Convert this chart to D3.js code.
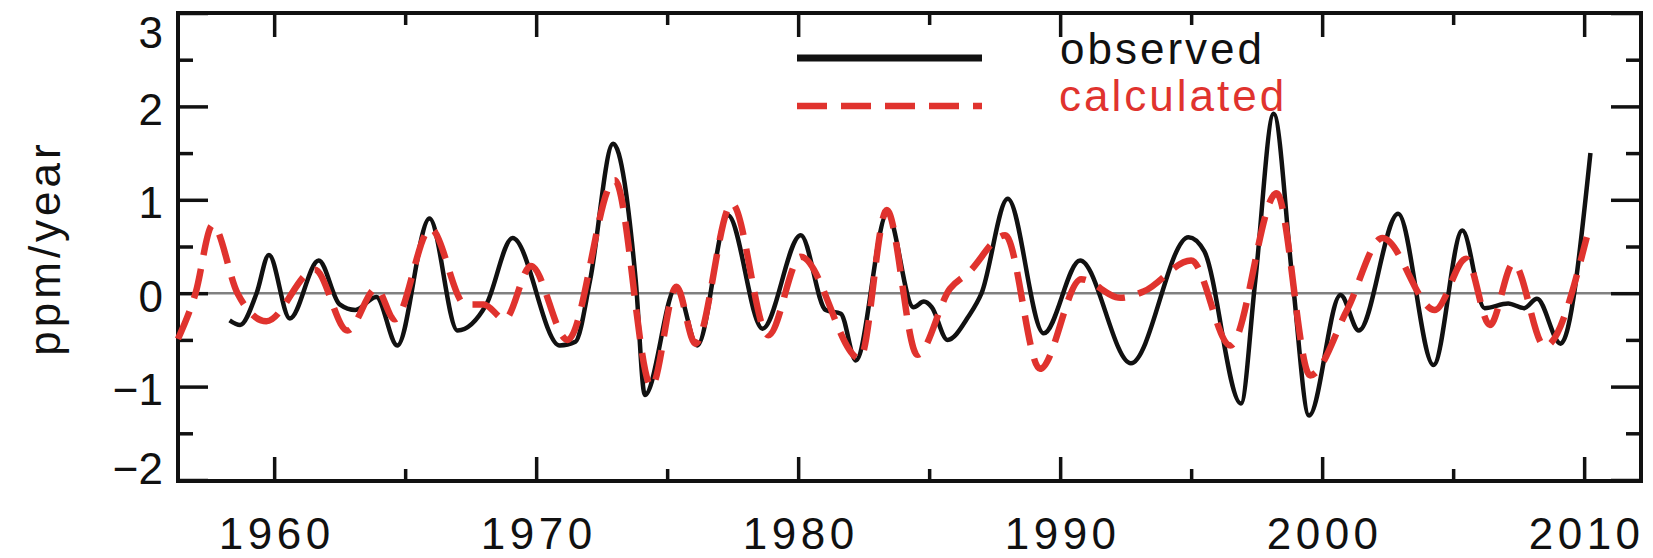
<!DOCTYPE html>
<html>
<head>
<meta charset="utf-8">
<script src="https://cdn.jsdelivr.net/npm/d3@7"></script>
<style>
  body { margin: 0; background: #fff; }
  svg { display: block; }
</style>
</head>
<body>
<div id="chart"></div>
<script>
// svg size
var svgWidth = 1653;
var svgHeight = 558;

// plot box edges
var box = { left: 178, right: 1641, top: 13, bottom: 481 };

// observed growth rate (ppm/year) at peaks / troughs
var obsYears = [1958.3, 1958.7, 1959.33, 1959.8, 1960.6, 1961.7, 1962.5, 1963.1, 1963.9, 1964.7,
    1965.93, 1967.0, 1968.1, 1969.1, 1970.9, 1971.5, 1972.06, 1972.94, 1973.8, 1974.15,
    1975.35, 1976.15, 1977.32, 1978.64, 1980.1, 1981.05, 1981.63, 1982.2, 1983.4, 1984.4,
    1984.8, 1985.1, 1985.7, 1986.5, 1987.0, 1988.0, 1989.37, 1990.76, 1992.7, 1994.9,
    1995.5, 1996.9, 1997.45, 1998.15, 1998.87, 1999.5, 2000.7, 2001.4, 2002.9, 2004.25,
    2005.35, 2006.2, 2007.1, 2007.7, 2008.2, 2009.1, 2010.24];
var obsValues = [-0.29, -0.34, 0.0, 0.41, -0.27, 0.35, -0.12, -0.18, -0.04, -0.56,
    0.80, -0.40, -0.12, 0.59, -0.56, -0.52, 0.14, 1.60, 0.14, -1.09,
    0.07, -0.56, 0.835, -0.38, 0.62, -0.18, -0.22, -0.72, 0.85, -0.15,
    -0.09, -0.15, -0.50, -0.25, 0.0, 1.01, -0.43, 0.35, -0.75, 0.60,
    0.45, -1.18, 0.14, 1.92, 0.14, -1.31, -0.02, -0.40, 0.85, -0.77,
    0.67, -0.16, -0.11, -0.16, -0.06, -0.54, 1.50];

// calculated growth rate (ppm/year)
var calcYears = [1956.33, 1957.0, 1957.65, 1958.6, 1959.7, 1961.55, 1962.8, 1963.9, 1964.6, 1965.97,
    1967.3, 1968.0, 1968.8, 1969.8, 1971.2, 1973.0, 1974.4, 1975.35, 1976.08, 1977.47,
    1978.86, 1980.1, 1982.36, 1983.38, 1984.55, 1985.8, 1986.5, 1987.9, 1989.23, 1990.8,
    1992.3, 1993.2, 1995.0, 1996.5, 1998.26, 1999.54, 2000.95, 2002.3, 2004.3, 2005.5,
    2006.4, 2007.3, 2008.5, 2010.1];
var calcValues = [-0.49, 0.0, 0.73, 0.0, -0.30, 0.25, -0.40, 0.05, -0.28, 0.69,
    -0.12, -0.12, -0.28, 0.29, -0.50, 1.21, -1.0, 0.07, -0.54, 0.96,
    -0.45, 0.39, -0.70, 0.89, -0.66, 0.05, 0.22, 0.62, -0.81, 0.15,
    -0.05, 0.02, 0.35, -0.56, 1.07, -0.88, -0.18, 0.59, -0.18, 0.37,
    -0.34, 0.32, -0.57, 0.60];

// ticks
var xMajorTicks = [1960, 1970, 1980, 1990, 2000, 2010];
var xMinorTicks = [1965, 1975, 1985, 1995, 2005];
var yMajorTicks = [-2, -1, 0, 1, 2, 3];
var yMinorTicks = [-1.5, -0.5, 0.5, 1.5, 2.5];

// legend labels
var seriesNames = ["observed", "calculated"];

var red = "#e0332e";
var ink = "#111";
var font = "'Liberation Sans', Arial, Helvetica, sans-serif";

var svg = d3.select("#chart").append("svg")
    .attr("width", svgWidth)
    .attr("height", svgHeight);

// scales
var xScale = d3.scaleLinear()
    .domain([1956.33, 2012.17])
    .range([box.left, box.right]);

var yScale = d3.scaleLinear()
    .domain([-2, 3])
    .range([480, 13]);

// zero line
svg.append("line")
    .attr("x1", box.left).attr("x2", box.right)
    .attr("y1", yScale(0)).attr("y2", yScale(0))
    .attr("stroke", "#808080")
    .attr("stroke-width", 2.5);

// helper to style an axis group
function styleAxis(g, width) {
    g.select(".domain").remove();
    g.selectAll(".tick line").attr("stroke", ink).attr("stroke-width", width);
}

// bottom axis, ticks pointing inward
var bottomAxis = svg.append("g")
    .attr("transform", `translate(0, ${box.bottom})`)
    .call(d3.axisBottom(xScale).tickValues(xMajorTicks).tickSizeInner(-24).tickSizeOuter(0)
        .tickPadding(37).tickFormat(d3.format("d")));
styleAxis(bottomAxis, 3.5);
bottomAxis.selectAll("text")
    .attr("font-family", font)
    .attr("font-size", 44)
    .attr("letter-spacing", "4.5px")
    .attr("dx", 2)
    .attr("fill", ink);

svg.append("g")
    .attr("transform", `translate(0, ${box.bottom})`)
    .call(d3.axisBottom(xScale).tickValues(xMinorTicks).tickSizeInner(-12).tickSizeOuter(0).tickFormat(""))
    .call(styleAxis, 3.5);

// top axis
svg.append("g")
    .attr("transform", `translate(0, ${box.top})`)
    .call(d3.axisTop(xScale).tickValues(xMajorTicks).tickSizeInner(-24).tickSizeOuter(0).tickFormat(""))
    .call(styleAxis, 3.5);
svg.append("g")
    .attr("transform", `translate(0, ${box.top})`)
    .call(d3.axisTop(xScale).tickValues(xMinorTicks).tickSizeInner(-12).tickSizeOuter(0).tickFormat(""))
    .call(styleAxis, 3.5);

// left axis with labels
var leftAxis = svg.append("g")
    .attr("transform", `translate(${box.left}, 0)`)
    .call(d3.axisLeft(yScale).tickValues(yMajorTicks).tickSizeInner(-30).tickSizeOuter(0)
        .tickPadding(15).tickFormat(d => d < 0 ? "\u2212" + Math.abs(d) : d));
styleAxis(leftAxis, 3.5);
leftAxis.selectAll("text")
    .attr("font-family", font)
    .attr("font-size", 44)
    .attr("fill", ink)
    .attr("dy", null)
    .attr("y", d => Math.min(Math.max(yScale(d) + 18, 47), 483) - yScale(d));

svg.append("g")
    .attr("transform", `translate(${box.left}, 0)`)
    .call(d3.axisLeft(yScale).tickValues(yMinorTicks).tickSizeInner(-15).tickSizeOuter(0).tickFormat(""))
    .call(styleAxis, 3.5);

// right axis
svg.append("g")
    .attr("transform", `translate(${box.right}, 0)`)
    .call(d3.axisRight(yScale).tickValues(yMajorTicks).tickSizeInner(-30).tickSizeOuter(0).tickFormat(""))
    .call(styleAxis, 3.5);
svg.append("g")
    .attr("transform", `translate(${box.right}, 0)`)
    .call(d3.axisRight(yScale).tickValues(yMinorTicks).tickSizeInner(-15).tickSizeOuter(0).tickFormat(""))
    .call(styleAxis, 3.5);

// frame
svg.append("rect")
    .attr("x", box.left).attr("y", box.top)
    .attr("width", box.right - box.left)
    .attr("height", box.bottom - box.top)
    .attr("fill", "none")
    .attr("stroke", ink)
    .attr("stroke-width", 4);

// y axis title
svg.append("text")
    .attr("transform", "translate(60, 248) rotate(-90)")
    .attr("text-anchor", "middle")
    .attr("font-family", font)
    .attr("font-size", 44)
    .attr("letter-spacing", "4px")
    .attr("fill", ink)
    .text("ppm/year");

// lines
var line = d3.line()
    .x(d => xScale(d[0]))
    .y(d => yScale(d[1]))
    .curve(d3.curveMonotoneX);

var obsData = obsYears.map((yr, i) => [yr, obsValues[i]]);
var calcData = calcYears.map((yr, i) => [yr, calcValues[i]]);

svg.append("path")
    .datum(obsData)
    .attr("d", line)
    .attr("fill", "none")
    .attr("stroke", ink)
    .attr("stroke-width", 4.5)
    .attr("stroke-linejoin", "round");

svg.append("path")
    .datum(calcData)
    .attr("d", line)
    .attr("fill", "none")
    .attr("stroke", red)
    .attr("stroke-width", 6.5)
    .attr("stroke-dasharray", "30,14");

// legend
var legend = svg.append("g");
legend.append("line")
    .attr("x1", 797).attr("x2", 982).attr("y1", 58).attr("y2", 58)
    .attr("stroke", ink).attr("stroke-width", 7);
legend.append("line")
    .attr("x1", 797).attr("x2", 982).attr("y1", 106).attr("y2", 106)
    .attr("stroke", red).attr("stroke-width", 6.5)
    .attr("stroke-dasharray", "30,14");
legend.append("text")
    .attr("x", 1060).attr("y", 64)
    .attr("font-family", font).attr("font-size", 44)
    .attr("letter-spacing", "3px")
    .attr("fill", ink)
    .text(seriesNames[0]);
legend.append("text")
    .attr("x", 1059).attr("y", 111)
    .attr("font-family", font).attr("font-size", 44)
    .attr("letter-spacing", "3px")
    .attr("fill", red)
    .text(seriesNames[1]);
</script>
</body>
</html>
